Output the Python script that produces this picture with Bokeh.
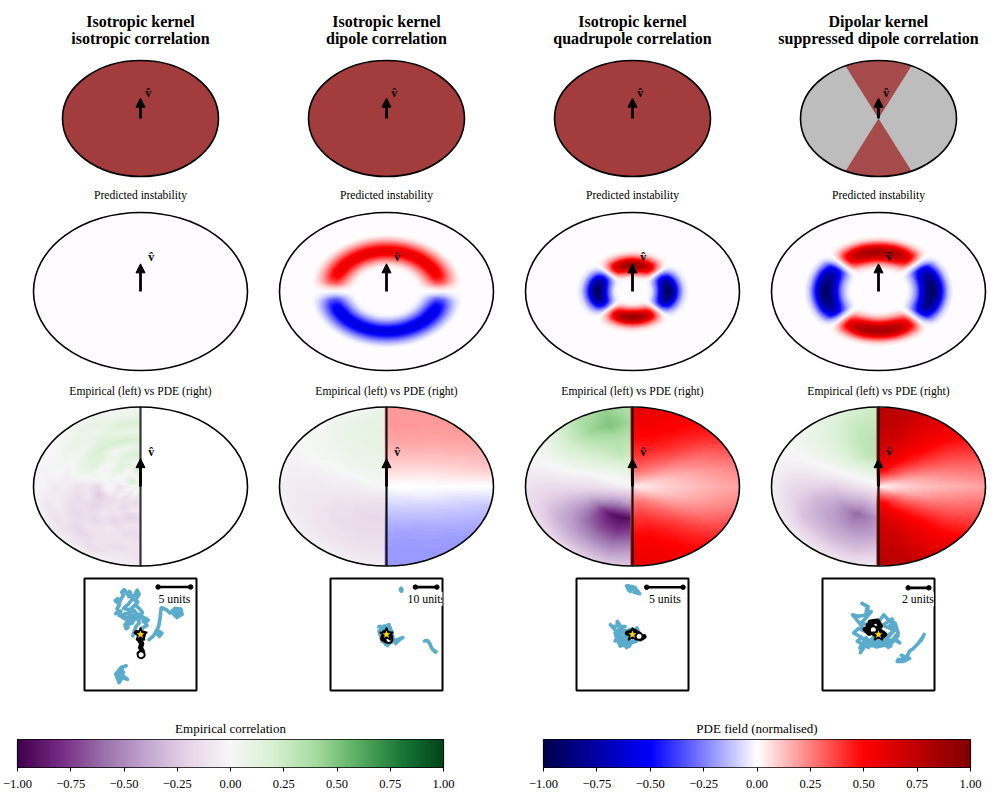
import numpy as np
from bokeh.embed import file_html
from bokeh.resources import INLINE
from bokeh.layouts import column, row
from bokeh.plotting import figure
from bokeh.models import Arrow, NormalHead, Label, LinearColorMapper, FixedTicker

# ---------- text ----------
TITLES = [("Isotropic kernel", "isotropic correlation"), ("Isotropic kernel", "dipole correlation"),
          ("Isotropic kernel", "quadrupole correlation"), ("Dipolar kernel", "suppressed dipole correlation")]
SUB_PRED = "Predicted instability"
SUB_EMP = "Empirical (left) vs PDE (right)"
CB_TITLES = ["Empirical correlation", "PDE field (normalised)"]
CB_TICKS = [-1.0, -0.75, -0.5, -0.25, 0.0, 0.25, 0.5, 0.75, 1.0]
CB_LABELS = ["\u22121.00", "\u22120.75", "\u22120.50", "\u22120.25", "0.00", "0.25", "0.50", "0.75", "1.00"]

# ---------- colormaps (anchor colours) ----------
PRGN = ["#40004b", "#762a83", "#9970ab", "#c2a5cf", "#e7d4e8", "#f7f7f7", "#d9f0d3", "#a6dba0", "#5aae61", "#1b7837", "#00441b"]
SEISMIC = ["#00004c", "#0000ff", "#ffffff", "#ff0000", "#7f0000"]

# ---------- predicted-instability rings: values ----------
RING_R = [0.0, 0.27, 0.32, 0.37, 0.42, 0.47, 0.50, 0.55, 0.60, 0.65, 0.70, 0.73, 1.0]
DIPOLE_RADIAL = [0, 0, 0.05, 0.25, 0.55, 0.88, 0.95, 0.88, 0.55, 0.25, 0.05, 0, 0]
QUAD_R = [0.0, 0.14, 0.18, 0.23, 0.28, 0.33, 0.38, 0.43, 0.48, 0.53, 1.0]
QUAD_RADIAL = [0, 0, 0.06, 0.35, 0.78, 1.0, 0.78, 0.35, 0.08, 0, 0]
SUPP_R = [0.0, 0.26, 0.30, 0.35, 0.40, 0.45, 0.50, 0.55, 0.60, 0.65, 0.70, 1.0]
SUPP_RADIAL = [0, 0, 0.06, 0.25, 0.6, 0.9, 1.0, 0.85, 0.45, 0.12, 0, 0]
DIPOLE_TH = [0, 30, 60, 70, 78, 84, 90]
DIPOLE_ANG = [0.62, 0.62, 0.6, 0.52, 0.35, 0.12, 0.0]
QUAD_TH = [0, 10, 20, 30, 38, 45, 52, 60, 70, 80, 90]
QUAD_ANG = [0.95, 0.9, 0.8, 0.62, 0.28, 0.0, -0.3, -0.62, -0.85, -0.95, -1.0]
SUPP_TH = [0, 15, 25, 35, 41, 45, 50, 55, 65, 80, 90]
SUPP_ANG = [0.85, 0.85, 0.75, 0.55, 0.22, 0.0, -0.2, -0.55, -0.8, -0.92, -0.95]

# ---------- empirical / PDE fields: angle rows (0 = top), radius columns ----------
FIELD_TH = [0, 15, 30, 45, 60, 75, 90, 105, 120, 135, 150, 165, 180]
FIELD_R = [0.0, 0.2, 0.4, 0.6, 0.8, 1.0]
FINE_R = [0.0, 0.1, 0.2, 0.3, 0.4, 0.5, 0.6, 0.7, 0.8, 0.9, 1.0]
EMP_1 = [[.25, .05, .20, .02, .20, .10, .20, .05, .20, .08, .05],
         [.15, -.10, .18, .05, .18, .05, .22, .10, .17, .06, .03],
         [.20, .10, -.05, .15, .10, .02, .20, .15, .05, .12, .02],
         [-.08, .20, .05, .12, .02, .14, .20, .05, .10, .05, .02],
         [.10, .20, -.05, .08, -.05, .15, .10, .02, .05, .02, 0],
         [-.10, .15, 0, -.05, .05, .02, .05, -.05, .03, -.03, -.02],
         [-.05, -.05, -.12, .05, -.18, -.10, -.12, -.05, -.08, -.02, -.02],
         [-.05, .05, -.10, -.05, -.25, -.10, -.15, -.12, -.05, -.10, -.03],
         [.10, -.10, -.02, -.15, -.15, -.20, -.12, -.18, -.10, -.12, -.05],
         [.05, -.05, -.15, -.10, -.12, -.08, -.18, -.10, -.20, -.10, -.06],
         [.10, .02, -.10, -.18, -.10, -.20, -.08, -.12, -.10, -.15, -.05],
         [.05, -.10, -.15, -.08, -.22, -.10, -.15, -.10, -.15, -.08, -.06],
         [-.05, -.05, -.12, -.10, -.15, -.12, -.15, -.12, -.10, -.12, -.06]]
EMP_2 = [[.08, .03, .05, .10, .08, .13, .10, .14, .10, .12, .06],
         [.05, -.02, .06, .08, .10, .10, .12, .10, .12, .08, .04],
         [.03, .05, .04, .08, .07, .10, .08, .10, .08, .07, .03],
         [.02, .02, .05, .03, .07, .05, .06, .05, .05, .03, .01],
         [0, .03, .02, .03, .02, .03, 0, .02, 0, 0, -.01],
         [0, -.02, .01, -.03, -.02, -.04, -.03, -.05, -.04, -.05, -.03],
         [0, -.01, -.04, -.05, -.07, -.06, -.08, -.07, -.08, -.06, -.04],
         [.02, -.04, -.05, -.08, -.09, -.11, -.09, -.10, -.08, -.07, -.04],
         [0, -.05, -.08, -.10, -.12, -.13, -.13, -.11, -.10, -.07, -.04],
         [-.02, -.06, -.10, -.12, -.16, -.14, -.15, -.12, -.11, -.08, -.04],
         [-.03, -.07, -.12, -.14, -.17, -.16, -.16, -.13, -.12, -.08, -.04],
         [-.04, -.08, -.12, -.15, -.18, -.16, -.15, -.14, -.12, -.09, -.05],
         [-.04, -.08, -.12, -.15, -.17, -.16, -.15, -.13, -.12, -.09, -.05]]
EMP_3 = [[-.02, .12, .25, .32, .40, .35], [-.02, .12, .28, .35, .50, .45], [-.02, .08, .22, .30, .42, .35],
         [-.02, .03, .15, .22, .25, .20], [-.02, 0, .06, .10, .10, .03], [-.02, -.02, -.05, -.03, -.03, -.04],
         [-.03, -.10, -.15, -.15, -.15, -.12], [-.03, -.20, -.30, -.30, -.25, -.15], [-.04, -.28, -.50, -.45, -.35, -.15],
         [-.05, -.35, -.75, -.60, -.40, -.18], [-.05, -.40, -.90, -.70, -.45, -.20], [-.05, -.40, -.95, -.75, -.50, -.25],
         [-.05, -.40, -.90, -.70, -.45, -.25]]
EMP_4 = [[-.02, .15, .33, .32, .28, .25], [-.02, .15, .30, .30, .27, .20], [-.02, .10, .22, .22, .18, .12],
         [-.02, .05, .12, .12, .10, .05], [-.02, 0, .03, .03, .02, 0], [-.03, -.06, -.08, -.08, -.08, -.03],
         [-.04, -.13, -.22, -.20, -.17, -.05], [-.05, -.20, -.32, -.32, -.22, -.06], [-.05, -.26, -.42, -.38, -.28, -.07],
         [-.05, -.30, -.52, -.42, -.28, -.08], [-.05, -.32, -.62, -.45, -.30, -.10], [-.05, -.30, -.55, -.45, -.30, -.12],
         [-.05, -.28, -.45, -.40, -.25, -.10]]
PDE_2 = [[0, .07, .14, .18, .20, .20], [0, .07, .13, .18, .20, .20], [0, .06, .12, .17, .19, .20],
         [0, .05, .10, .14, .18, .20], [0, .03, .07, .11, .14, .17], [0, .01, .03, .06, .09, .12],
         [0, 0, 0, 0, 0, 0], [0, -.01, -.03, -.06, -.09, -.12], [0, -.03, -.07, -.11, -.14, -.17],
         [0, -.05, -.10, -.14, -.18, -.20], [0, -.06, -.12, -.17, -.19, -.20], [0, -.07, -.13, -.18, -.20, -.20],
         [0, -.07, -.14, -.18, -.20, -.20]]
PDE_3 = [[.06, .28, .40, .48, .54, .58], [.06, .28, .40, .48, .53, .56], [.06, .25, .35, .44, .49, .52],
         [.06, .20, .29, .36, .41, .46], [.05, .14, .20, .25, .30, .36], [.04, .09, .13, .17, .21, .25],
         [.03, .07, .10, .13, .16, .18], [.04, .09, .13, .17, .21, .25], [.05, .14, .20, .25, .30, .36],
         [.06, .20, .29, .36, .41, .46], [.06, .25, .35, .44, .49, .52], [.06, .28, .40, .48, .53, .56],
         [.06, .28, .40, .48, .54, .58]]
PDE_4 = [[.10, .50, .65, .70, .75, .78], [.10, .48, .62, .68, .72, .75], [.08, .40, .52, .58, .60, .65],
         [.07, .32, .42, .48, .50, .55], [.05, .22, .30, .35, .38, .42], [.03, .13, .18, .23, .27, .30],
         [.02, .08, .12, .14, .16, .18], [.03, .13, .18, .23, .27, .30], [.05, .22, .30, .35, .38, .42],
         [.07, .32, .42, .48, .50, .55], [.08, .40, .52, .58, .60, .65], [.10, .48, .62, .68, .72, .75],
         [.10, .50, .65, .70, .75, .78]]

# ---------- sector of the suppressed-dipole kernel ----------
SECTOR_HALF_DEG = 25
ARROW_LEN = 0.35

# ---------- trajectories, in "units", star at origin ----------
T1_X = [0, .3, 1.0, .7, 1.2, .8, .4, .6, .2, -.2, -.6, -.4, -1.0, -1.3, -1.6, -1.2, -2.2, -1.9, -2.2, -2.4, -1.9, -2.3, -2.8, -3.1, -3.3, -3.0, -3.8, -3.4, -3.6, -3.2, -3.9, -3.5, -3.2, -2.9, -2.6, -2.9, -2.5, -2.2, -2.0, -1.7, -1.5, -1.8, -.9, -.7, -.5, -.2, -.5, -.8, -1.2, -1.6, -1.9, -2.2, -2.6, -1.6, -1.2, -1.0, -.4, -.8, -.2, .3, .1, -.6, -1.0, -1.4, -2.4, -2.8, -2.0, -1.5, -1.0, -.6, -.2, -.7, -1.2]
T1_Y = [0, 1.0, 1.4, 1.8, 2.2, 2.5, 2.0, 2.5, 2.8, 2.3, 2.4, 2.9, 3.0, 2.6, 2.2, 1.8, 1.4, 1.1, .9, 1.5, 2.0, 2.4, 2.6, 3.2, 2.9, 3.6, 3.2, 3.7, 4.0, 4.6, 5.2, 5.5, 5.0, 5.6, 6.0, 6.5, 6.9, 6.5, 6.2, 6.6, 6.4, 5.8, 6.0, 6.5, 6.8, 6.2, 5.7, 5.2, 5.5, 5.0, 4.6, 4.4, 4.0, 3.8, 4.2, 4.4, 5.0, 4.5, 4.0, 3.4, 3.0, 3.2, 3.7, 3.4, 3.2, 2.9, 2.6, 2.9, 2.2, 2.7, 1.8, 1.2, -.2]
T1B_X = [1.3, 2.0, 2.5, 3.3, 2.9, 2.4, 2.8, 3.0, 3.1, 3.2, 4.0, 4.5, 5.3, 6.2, 6.4, 5.6, 5.0, 5.5, 6.0, 5.3, 5.9, 6.3, 5.5]
T1B_Y = [-.8, -.2, .7, .2, -.3, .3, 1.3, 2.4, 3.4, 4.1, 3.8, 3.3, 4.0, 3.9, 3.1, 2.6, 3.2, 3.9, 3.3, 3.0, 3.6, 3.4, 3.5]
T1C_X = [-2.2, -3.0, -3.8, -3.3, -2.8, -2.0, -3.0, -2.8, -3.4, -3.6, -2.9, -3.4, -2.6]
T1C_Y = [-4.8, -5.1, -6.1, -7.4, -6.6, -6.9, -6.1, -5.4, -5.6, -6.5, -5.0, -7.0, -5.8]
B1_X = [0, -.6, .5, .3, -.2, .2, 0, .3, -.2, .1]
B1_Y = [0, .3, .2, -.6, -.8, -1.4, -2.0, -2.6, -2.9, -3.1]
T2_X = [0, -2.8, -3.6, -1, 1.1, 2.6, 1.5, 2.6, 3.4, 6.5, 7.6, 5.5, 4.2, 6, 4.2, .3, -2, -3.5, -1, 1.5, 0, .5, 1.5, -.5]
T2_Y = [0, 3.8, 3.6, 3.2, 4.6, .8, 2.5, 0, -3.1, -1.8, -1.4, -2.8, -4.2, -2.5, -2.6, -4.6, -3.1, 1.5, 4, 3, 0, -5.2, -3.6, -4.5]
T2B_X = [6.4, 6.8, 7.2, 6.9, 6.5, 7.1]
T2B_Y = [21.0, 21.5, 20.6, 20.1, 20.5, 21.0]
T2C_X = [17.6, 19.0, 20.3, 21.0, 22.6, 22.2, 23.0]
T2C_Y = [-3.0, -2.8, -4.6, -6.4, -8.2, -7.4, -8.0]
B2_X = [0, -1.5, -1.8, 0, 1.5, 2, 1, -1, -1.2, .5, 1.1]
B2_Y = [0, -.8, -2, -3, -2.5, -1, .5, 1, -1.5, -1.8, -2.3]
T3_X = [0, -1.0, -2.0, -2.3, -3.05, -2.7, -2.1, -2.1, -1.6, -1.0, -1.7, -2.4, -2.0, -2.4, -1.5, -1.9, -1.7, -1.1, -.8, -.3, -1.0, -1.6, -.6, 0, .6, 1.0, .6, .5, -.3, -1.2, -1.8, -2.2, -1.4, -.7, -.2, .4, -.4, -1.4, -1.0, -.3, -1.6, -2.1, -1.2, -.8, -1.5, -.4, -1.1, -2.3, -1.7, -.9, .2, -.6]
T3_Y = [0, -.4, -.2, .5, 1.36, 1.0, 1.2, 1.8, 1.1, 1.1, .9, .2, -.2, -.9, -.7, -1.1, -1.6, -1.4, -1.8, -1.35, -.45, -.4, -.7, -1.1, -.9, 0, .9, .4, .7, .3, .6, -.4, -1.0, -.9, -.2, -.5, -1.4, -1.2, -.1, .3, .2, -.6, -.6, -1.2, -1.3, -1.6, -.9, -.2, .5, .5, .2, -.3]
T3B_X = [-.8, -.6, -.3, -.5, 0, .4, .2, 1.0, .6, 0, -.5]
T3B_Y = [6.7, 6.2, 5.9, 6.6, 6.6, 6.4, 5.8, 5.6, 6.1, 6.2, 6.7]
B3_X = [0, -.7, .2, .8, 1.3, 1.6, 1.1, .9]
B3_Y = [0, .2, .5, .1, -.4, -.3, -.6, -.25]
T4_X = [0, .5, 1.0, 1.4, 1.0, 1.6, 1.9, 1.5, 2.05, 1.5, 1.25, .95, .4, -.15, -.6, -.95, -1.4, -1.75, -1.3, -2.05, -1.6, -2.4, -1.9, -1.3, -1.75, -2.5, -1.9, -1.1, -1.0, -1.6, -1.1, -1.2, -.7, -1.2, -1.7, -.8, -.2, .15, .5, .95, 1.3, 1.6, 1.1, .4, 1.3, 1.7, .9, .2, -.4, -1.0, -1.5, -.9, .2, .8, 1.2, .7, 1.5, 1.9, 1.2, -.2, -1.1, -1.8, -1.2, -.6]
T4_Y = [0, -.4, -.2, .3, .8, 1.1, .15, -.3, -.8, -.5, -.65, -1.25, -.8, -.95, -.6, -1.25, -1.0, -1.75, -1.1, -.65, -.3, .15, .6, .3, 1.0, 1.9, 1.75, 1.9, 2.7, 3.0, 2.7, 2.1, 2.2, 1.6, 1.1, .9, 1.3, 1.4, 1.9, 1.4, 1.1, .6, .6, .9, 1.5, .5, -.1, -.5, -.2, -.8, -.4, -.9, -.6, -.9, -1.1, -.6, -.5, -.1, -.9, -1.2, -.7, -1.3, -.3, -1.1]
T4B_X = [4.4, 4.1, 4.3, 3.8, 3.3, 3.0, 2.7, 2.2, 2.6, 1.9, 1.8, 2.4, 3.0, 2.5]
T4B_Y = [0, -.6, -.2, -.9, -1.4, -1.6, -2.2, -2.0, -2.5, -2.4, -2.6, -2.6, -2.3, -2.2]
B4_X = [0, -.3, -.9, -1.3, -.6, -.8, -.1, .2, -.4, -1.0, -.5, .3, .6, .1, -.5]
B4_Y = [0, .3, .1, .5, .8, 1.2, 1.3, .8, .4, .9, .1, -.2, 0, .4, .45]
TRACKS = [[(T1_X, T1_Y), (T1B_X, T1B_Y), (T1C_X, T1C_Y)], [(T2_X, T2_Y), (T2B_X, T2B_Y), (T2C_X, T2C_Y)],
          [(T3_X, T3_Y), (T3B_X, T3B_Y)], [(T4_X, T4_Y), (T4B_X, T4B_Y)]]
HEADS = [(B1_X, B1_Y), (B2_X, B2_Y), (B3_X, B3_Y), (B4_X, B4_Y)]
BOX_HALF = [8.6, 26.0, 7.7, 5.4]
BAR_UNITS = [5, 10, 5, 2]
BAR_X0 = [2.7, 13.4, 1.95, 2.86]
BAR_Y = [7.3, 22.0, 6.5, 4.5]
BAR_LABEL_X = [5.2, 18.5, 4.45, 3.8]
BAR_LABEL_Y = [5.5, 16.6, 4.9, 3.4]

SERIF = "Liberation Serif"
TRACK_COLOR = "#52a8c9"
KERNEL_RED = "#a33c3c"
SECTOR_RED = "#a54b4b"
SECTOR_GRAY = "#bdbdbd"

def palette(anchors, n=256):
    rgb = np.array([[int(c[i:i + 2], 16) for i in (1, 3, 5)] for c in anchors], float)
    pos = np.linspace(0, 1, len(anchors))
    q = np.linspace(0, 1, n)
    out = np.stack([np.interp(q, pos, rgb[:, k]) for k in range(3)], 1).round().astype(int)
    return ["#%02x%02x%02x" % tuple(v) for v in out]

PRGN_MAP = LinearColorMapper(palette=palette(PRGN), low=-1, high=1, nan_color="rgba(0,0,0,0)")
SEISMIC_MAP = LinearColorMapper(palette=palette(SEISMIC), low=-1, high=1, nan_color="rgba(0,0,0,0)")

XS, YS = np.meshgrid(np.linspace(-1, 1, 428), np.linspace(-1, 1, 316))
RR = np.hypot(XS, YS)
TH = np.degrees(np.arctan2(np.abs(XS), YS))
FOLD = np.where(TH > 90, 180 - TH, TH)

# Display shading only: the read-off grids above are blended between their nodes for the raster.
def shade_grid(grid):
    g = np.array(grid, float)
    r_a = np.array(FINE_R if g.shape[1] == len(FINE_R) else FIELD_R)
    th_a = np.array(FIELD_TH, float)
    ti = np.clip(np.searchsorted(th_a, TH, side="right") - 1, 0, len(th_a) - 2)
    ri = np.clip(np.searchsorted(r_a, RR, side="right") - 1, 0, len(r_a) - 2)
    t = (TH - th_a[ti]) / (th_a[ti + 1] - th_a[ti])
    u = np.clip((RR - r_a[ri]) / (r_a[ri + 1] - r_a[ri]), 0, 1)
    return (g[ti, ri] * (1 - t) * (1 - u) + g[ti + 1, ri] * t * (1 - u)
            + g[ti, ri + 1] * (1 - t) * u + g[ti + 1, ri + 1] * t * u)

def ring(radii, radial, ths, ang):
    return np.interp(RR, radii, radial) * np.interp(FOLD, ths, ang)

def panel(w, h, xr, yr):
    p = figure(width=w, height=h, x_range=xr, y_range=yr, toolbar_location=None, output_backend="svg",
               x_axis_location=None, y_axis_location=None, min_border=0, outline_line_color=None,
               background_fill_color="white", border_fill_color="white")
    p.grid.visible = False
    return p

def text(p, x, y, s, size, bold=False):
    p.add_layout(Label(x=x, y=y, text=s, text_align="center", text_baseline="middle", text_font=SERIF,
                       text_font_size=size, text_font_style="bold" if bold else "normal", text_color="black"))

def arrow(p):
    p.add_layout(Arrow(end=NormalHead(size=9, fill_color="black", line_color="black", line_width=1),
                       x_start=0, y_start=0.0, x_end=0, y_end=ARROW_LEN, line_color="black", line_width=2.8))
    text(p, 0.1, ARROW_LEN + 0.09, "v\u0302", "12px", bold=True)

W = 220
def top_panel(i):
    a, b = 78.0, 58.0
    p = panel(W, 177, (-110 / a, 110 / a), (-67 / b, 110 / b))
    fill = SECTOR_GRAY if i == 3 else KERNEL_RED
    p.ellipse(x=0, y=0, width=2, height=2, fill_color=fill, line_color=None)
    if i == 3:
        a_s = np.radians(np.linspace(-SECTOR_HALF_DEG, SECTOR_HALF_DEG, 41))
        for sgn in (1, -1):
            p.patch(np.r_[0, np.sin(a_s)], sgn * np.r_[0, np.cos(a_s)], fill_color=SECTOR_RED, line_color=None)
    p.ellipse(x=0, y=0, width=2, height=2, fill_color=None, line_color="black", line_width=1.6)
    text(p, 0, 97 / b, TITLES[i][0], "16px", bold=True)
    text(p, 0, 80.5 / b, TITLES[i][1], "16px", bold=True)
    arrow(p)
    return p

def mid_panel(i):
    a, b = 107.0, 79.0
    p = panel(W, 195, (-110 / a, 110 / a), (-89 / b, 106 / b))
    p.ellipse(x=0, y=0, width=2, height=2, fill_color="#fefcfe", line_color=None)
    v = None
    if i == 1:
        v = ring(RING_R, DIPOLE_RADIAL, DIPOLE_TH, DIPOLE_ANG)
        v = np.where(TH > 90, -v, v)
    elif i == 2:
        v = ring(QUAD_R, QUAD_RADIAL, QUAD_TH, QUAD_ANG)
    elif i == 3:
        v = ring(SUPP_R, SUPP_RADIAL, SUPP_TH, SUPP_ANG)
    if v is not None:
        v = np.where(RR <= 1, v, np.nan)
        v = np.where(np.abs(v) < 0.006, np.nan, v)
        p.image(image=[v], x=-1, y=-1, dw=2, dh=2, color_mapper=SEISMIC_MAP)
    p.ellipse(x=0, y=0, width=2, height=2, fill_color=None, line_color="black", line_width=1.6)
    text(p, 0, 96.3 / b, SUB_PRED, "11.6px")
    arrow(p)
    return p

EMP = [EMP_1, EMP_2, EMP_3, EMP_4]
PDE = [None, PDE_2, PDE_3, PDE_4]

def low_panel(i):
    a, b = 107.0, 79.5
    p = panel(W, 193, (-110 / a, 110 / a), (-87 / b, 106 / b))
    left = np.where((RR <= 1) & (XS < 0), shade_grid(EMP[i]), np.nan)
    p.image(image=[left], x=-1, y=-1, dw=2, dh=2, color_mapper=PRGN_MAP)
    if PDE[i] is not None:
        right = np.where((RR <= 1) & (XS > -0.022), shade_grid(PDE[i]), np.nan)
        p.image(image=[right], x=-1, y=-1, dw=2, dh=2, color_mapper=SEISMIC_MAP)
    p.segment(x0=[0], y0=[-1], x1=[0], y1=[1], line_color="#111111" if i else "#333333", line_width=2.2)
    p.ellipse(x=0, y=0, width=2, height=2, fill_color=None, line_color="black", line_width=1.6)
    text(p, 0, 95.3 / b, SUB_EMP, "11.6px")
    arrow(p)
    return p

def track_panel(i):
    h = BOX_HALF[i]
    p = figure(width=W, height=125, frame_width=112, frame_height=112, x_range=(-h, h), y_range=(-h, h),
               toolbar_location=None, output_backend="svg", x_axis_location=None, y_axis_location=None,
               min_border_left=54, min_border_right=54, min_border_top=5, min_border_bottom=8,
               outline_line_color="black", outline_line_width=2, background_fill_color="white", border_fill_color="white")
    p.grid.visible = False
    for xs, ys in TRACKS[i]:
        p.line(xs, ys, line_color=TRACK_COLOR, line_width=3.6, line_alpha=0.95, line_join="round", line_cap="round")
    hx, hy = HEADS[i]
    p.line(hx, hy, line_color="black", line_width=5, line_join="round", line_cap="round")
    p.scatter([hx[-1]], [hy[-1]], marker="circle", size=7, fill_color="white", line_color="black", line_width=2)
    p.scatter([0], [0], marker="star", size=14, fill_color="#ffd700", line_color="black", line_width=1.6)
    x0, x1 = BAR_X0[i], BAR_X0[i] + BAR_UNITS[i]
    p.segment(x0=[x0], y0=[BAR_Y[i]], x1=[x1], y1=[BAR_Y[i]], line_color="black", line_width=2.6)
    p.scatter([x0, x1], [BAR_Y[i]] * 2, marker="circle", size=4.5, fill_color="black", line_color="black")
    p.add_layout(Label(x=BAR_LABEL_X[i], y=BAR_LABEL_Y[i], text=f"{BAR_UNITS[i]} units", text_align="center",
                       text_baseline="middle", text_font=SERIF, text_font_size="11.8px", text_color="black",
                       background_fill_color="white", background_fill_alpha=1.0))
    return p

def colorbar(title, mapper, width, left, frame, right):
    p = figure(width=width, height=93, frame_width=frame, frame_height=28, x_range=(-1, 1), y_range=(0, 1),
               title=title, title_location="above",
               toolbar_location=None, output_backend="svg", y_axis_location=None,
               min_border_left=left, min_border_right=right, min_border_top=41, min_border_bottom=24,
               outline_line_color="black", outline_line_width=1.2, background_fill_color="white",
               border_fill_color="white")
    p.title.align = "center"
    p.title.text_font = SERIF
    p.title.text_font_size = "13px"
    p.title.text_font_style = "normal"
    p.title.text_color = "black"
    p.title.standoff = 8
    p.grid.visible = False
    ramp = np.linspace(-1, 1, 256).reshape(1, -1)
    p.image(image=[ramp], x=-1, y=0, dw=2, dh=1, color_mapper=mapper)
    ax = p.xaxis[0]
    ax.ticker = FixedTicker(ticks=CB_TICKS)
    ax.major_label_overrides = dict(zip(CB_TICKS, CB_LABELS))
    ax.major_tick_out = 4
    ax.major_tick_in = 0
    ax.minor_tick_line_color = None
    ax.axis_line_color = None
    ax.major_tick_line_color = "black"
    ax.major_label_standoff = 8
    ax.major_label_text_font = SERIF
    ax.major_label_text_font_size = "12.5px"
    ax.major_label_text_color = "black"
    return p

rows = [
    row([top_panel(i) for i in range(4)], spacing=26, margin=(8, 0, 0, 30)),
    row([mid_panel(i) for i in range(4)], spacing=26, margin=(0, 0, 0, 30)),
    row([low_panel(i) for i in range(4)], spacing=26, margin=(0, 0, 0, 30)),
    row([track_panel(i) for i in range(4)], spacing=26, margin=(0, 0, 0, 30)),
    row([colorbar(CB_TITLES[0], PRGN_MAP, 490, 17, 426, 47),
         colorbar(CB_TITLES[1], SEISMIC_MAP, 505, 53, 427, 25)], spacing=0, margin=0),
]
root = column(rows, spacing=0)
open("out.html", "w").write(file_html(root, INLINE))
